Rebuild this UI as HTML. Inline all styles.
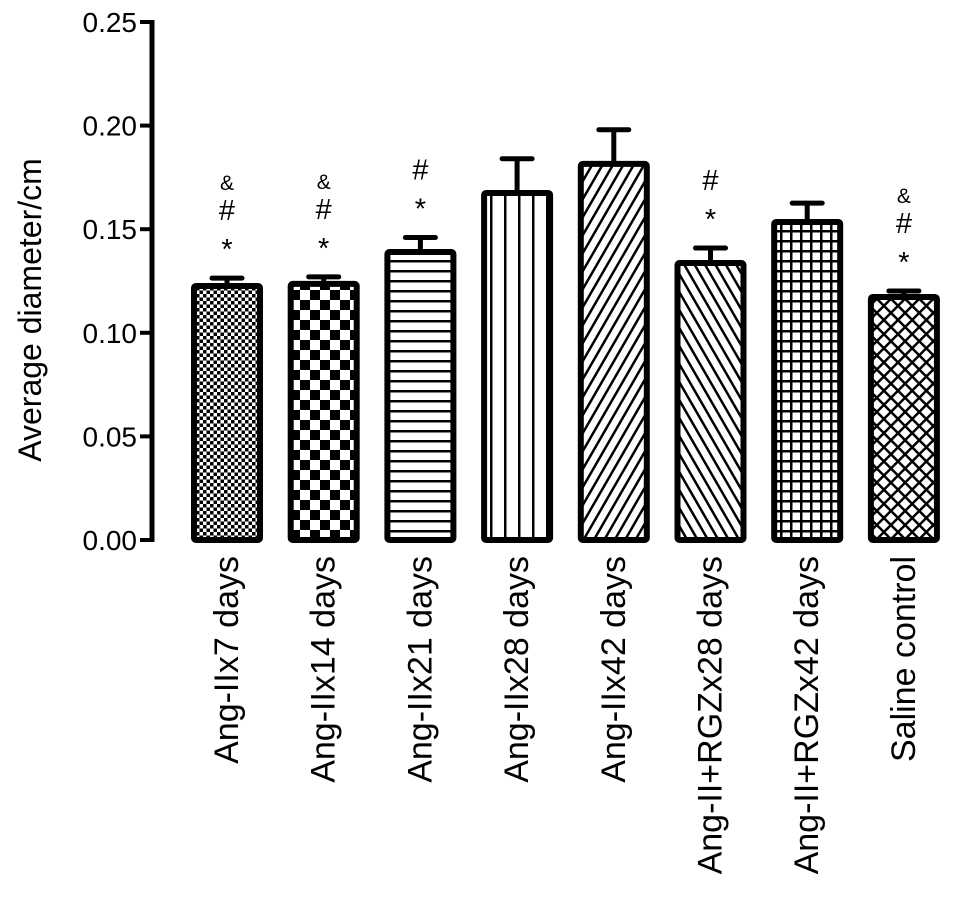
<!DOCTYPE html>
<html><head><meta charset="utf-8"><style>
html,body{margin:0;padding:0;background:#fff;}
svg{display:block;font-family:"Liberation Sans",Arial,sans-serif;}
</style></head><body>
<svg id="chart" width="969" height="898" viewBox="0 0 969 898">
<defs>
<pattern id="p0" width="7" height="7" patternUnits="userSpaceOnUse"><rect width="7" height="7" fill="#fff"/><rect width="3.5" height="3.5" fill="#000"/><rect x="3.5" y="3.5" width="3.5" height="3.5" fill="#000"/></pattern>
<pattern id="p1" width="20" height="20" patternUnits="userSpaceOnUse"><rect width="20" height="20" fill="#fff"/><rect width="10" height="10" fill="#000"/><rect x="10" y="10" width="10" height="10" fill="#000"/></pattern>
<pattern id="p2" width="10" height="10" patternUnits="userSpaceOnUse"><rect width="10" height="10" fill="#fff"/><rect y="0" width="10" height="2.5" fill="#000"/></pattern>
<pattern id="p3" width="14" height="10" patternUnits="userSpaceOnUse"><rect width="14" height="10" fill="#fff"/><rect x="0" width="2.5" height="10" fill="#000"/></pattern>
<pattern id="p4" width="9" height="9" patternUnits="userSpaceOnUse" patternTransform="rotate(30)"><rect width="9" height="9" fill="#fff"/><rect width="2.5" height="9" fill="#000"/></pattern>
<pattern id="p5" width="9" height="9" patternUnits="userSpaceOnUse" patternTransform="rotate(-30)"><rect width="9" height="9" fill="#fff"/><rect width="2.5" height="9" fill="#000"/></pattern>
<pattern id="p6" width="10" height="10" patternUnits="userSpaceOnUse"><rect width="10" height="10" fill="#fff"/><rect width="2.5" height="10" fill="#000"/><rect width="10" height="2.5" fill="#000"/></pattern>
<pattern id="p7" width="10" height="10" patternUnits="userSpaceOnUse" patternTransform="rotate(45)"><rect width="10" height="10" fill="#fff"/><rect width="2.5" height="10" fill="#000"/><rect y="0" width="10" height="2.5" fill="#000"/></pattern>
</defs>
<g id="axes"></g>
<g id="bars"></g>
<text transform="translate(41,310) rotate(-90)" text-anchor="middle" font-size="32">Average diameter/cm</text>
</svg>
<script>
const categories=["Ang-IIx7 days","Ang-IIx14 days","Ang-IIx21 days","Ang-IIx28 days","Ang-IIx42 days","Ang-II+RGZx28 days","Ang-II+RGZx42 days","Saline control"];
const values=[0.1226,0.1236,0.139,0.1675,0.1815,0.1337,0.1535,0.1173];
const errors=[0.0038,0.0034,0.007,0.0165,0.0165,0.0072,0.0091,0.0029];
const marks=[["*","#","&"],["*","#","&"],["*","#"],[],[],["*","#"],[],["*","#","&"]];
const yTicks=["0.00","0.05","0.10","0.15","0.20","0.25"];
const NS="http://www.w3.org/2000/svg";
const y0=540,yTop=22,yMax=0.25;
function y(v){return y0-(v/yMax)*(y0-yTop);}
function xc(i){return 227+i*96.7;}
const bw=66;
const ax=document.getElementById('axes'),bg=document.getElementById('bars');
function mk(tag,attrs,parent){const e=document.createElementNS(NS,tag);for(const k in attrs)e.setAttribute(k,attrs[k]);parent.appendChild(e);return e;}
let l=mk('line',{x1:152,y1:y0+2,x2:152,y2:yTop-2,stroke:'#000','stroke-width':5},ax);


const markOff={"*":22,"#":58,"&":88};
yTicks.forEach(t=>{const v=parseFloat(t),yy=y(v);
 const tk=mk('line',{x1:140,x2:152,y1:yy,y2:yy,stroke:'#000','stroke-width':4},ax);
 
 
 const tx=mk('text',{x:137,y:yy+10,'text-anchor':'end','font-size':28},ax);tx.textContent=t;
 
 
});
categories.forEach((c,i)=>{const cx=xc(i),top=y(values[i]),et=y(values[i]+errors[i]);
 const el=mk('line',{x1:cx,x2:cx,y1:top,y2:et,stroke:'#000','stroke-width':5},bg);
 
 
 const cap=mk('line',{x1:cx-15,x2:cx+15,y1:et,y2:et,stroke:'#000','stroke-width':5,'stroke-linecap':'round'},bg);
 
 
 const r=mk('rect',{x:cx-bw/2,y:top,width:bw,height:y0-top,fill:'url(#p'+i+')',stroke:'#000','stroke-width':6,rx:2},bg);
 
 
 marks[i].forEach(m=>{
  const t=mk('text',{x:cx,y:et-markOff[m]+(m==='*'?3:0),'text-anchor':'middle','font-size':m==='&'?21:29},bg);t.textContent=m;
  
  
 });
 const lb=mk('text',{transform:'translate('+(cx+11)+',556) rotate(-90)','text-anchor':'end','font-size':34},bg);lb.textContent=c;
 
 
});
</script>
</body></html>
